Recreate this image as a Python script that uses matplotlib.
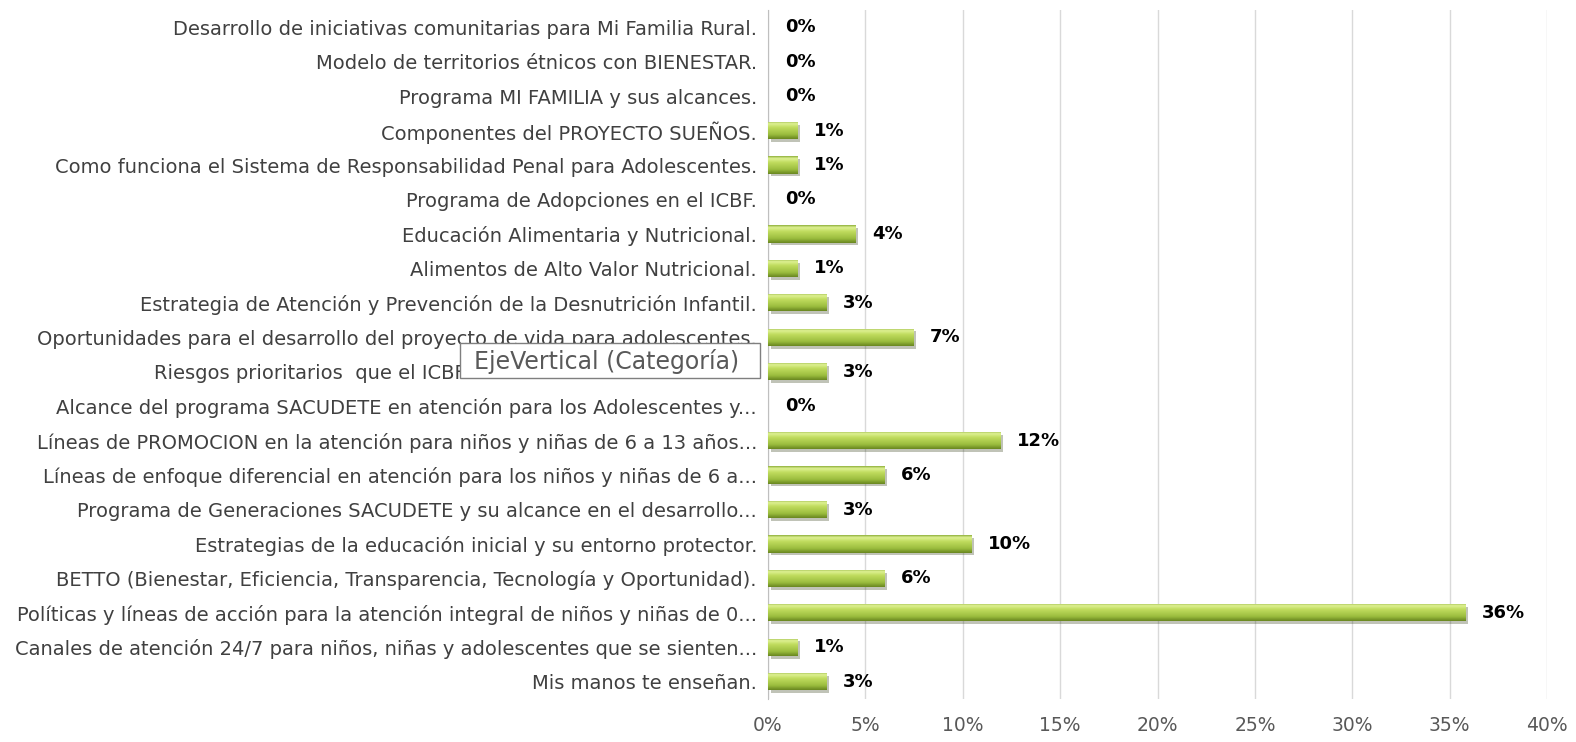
import numpy as np
import matplotlib
matplotlib.use("Agg")
import matplotlib.pyplot as plt
import matplotlib.patheffects as pe
from matplotlib.colors import LinearSegmentedColormap
from matplotlib.patches import Rectangle
from matplotlib.ticker import FuncFormatter

# categories listed top to bottom as in the chart
categorias = [
    "Desarrollo de iniciativas comunitarias para Mi Familia Rural.",
    "Modelo de territorios étnicos con BIENESTAR.",
    "Programa MI FAMILIA y sus alcances.",
    "Componentes del PROYECTO SUEÑOS.",
    "Como funciona el Sistema de Responsabilidad Penal para Adolescentes.",
    "Programa de Adopciones en el ICBF.",
    "Educación Alimentaria y Nutricional.",
    "Alimentos de Alto Valor Nutricional.",
    "Estrategia de Atención y Prevención de la Desnutrición Infantil.",
    "Oportunidades para el desarrollo del proyecto de vida para adolescentes.",
    "Riesgos prioritarios  que el ICBF aborda con los adolescentes.",
    "Alcance del programa SACUDETE en atención para los Adolescentes y...",
    "Líneas de PROMOCION en la atención para niños y niñas de 6 a 13 años...",
    "Líneas de enfoque diferencial en atención para los niños y niñas de 6 a...",
    "Programa de Generaciones SACUDETE y su alcance en el desarrollo...",
    "Estrategias de la educación inicial y su entorno protector.",
    "BETTO (Bienestar, Eficiencia, Transparencia, Tecnología y Oportunidad).",
    "Políticas y líneas de acción para la atención integral de niños y niñas de 0...",
    "Canales de atención 24/7 para niños, niñas y adolescentes que se sienten...",
    "Mis manos te enseñan.",
]
# percentages
valores = [0.0, 0.0, 0.0, 1.49, 1.49, 0.0, 4.48, 1.49, 2.99, 7.46,
           2.99, 0.0, 11.94, 5.97, 2.99, 10.45, 5.97, 35.82, 1.49, 2.99]
xticks = [0, 5, 10, 15, 20, 25, 30, 35, 40]

W, H = 1576, 742
fig = plt.figure(figsize=(W / 100, H / 100), dpi=100)
ax = fig.add_axes([768 / W, 1 - 699 / H, (1547 - 768) / W, 689 / H])

y = np.arange(len(categorias))
bars = ax.barh(y, valores, height=0.5, color="#9dc040", edgecolor="none", zorder=3)

# green gradient like the excel bevel
cmap = LinearSegmentedColormap.from_list(
    "verde", [(0, "#8aac35"), (0.12, "#e0f296"), (0.35, "#c0dc5e"),
              (0.75, "#9bbd3e"), (1, "#68861f")])
grad = np.linspace(0, 1, 64).reshape(-1, 1)
for b in bars:
    if b.get_width() <= 0:
        continue
    b.set_path_effects([pe.SimplePatchShadow(offset=(2, -2), alpha=0.3), pe.Normal()])
    x0, y0 = b.get_x(), b.get_y()
    im = ax.imshow(grad, cmap=cmap, aspect="auto", zorder=4,
                   extent=(x0, x0 + b.get_width(), y0 + b.get_height(), y0),
                   interpolation="bicubic")
    im.set_clip_path(b)

for i, v in enumerate(valores):
    ax.annotate(f"{v:.0f}%", (v, i), xytext=(12, 0), textcoords="offset points",
                va="center", ha="left", fontsize=13, fontweight="bold", color="black")

ax.set_xlim(0, 40)
ax.set_ylim(len(categorias) - 0.5, -0.5)
ax.set_xticks(xticks)
ax.xaxis.set_major_formatter(FuncFormatter(lambda v, p: f"{v:.0f}%"))
ax.set_yticks(y)
ax.set_yticklabels(categorias, fontsize=14, color="#404040")
ax.tick_params(axis="x", length=0, labelsize=13.5, labelcolor="#595959", pad=12)
ax.tick_params(axis="y", length=0, pad=8)
ax.grid(axis="x", color="#d9d9d9", linewidth=1, zorder=0)
ax.set_axisbelow(True)
for s in ["top", "right", "bottom"]:
    ax.spines[s].set_visible(False)
ax.spines["left"].set_color("#bfbfbf")

# the hover tooltip seen in the screenshot
fig.patches.append(Rectangle((460 / W, 1 - 378 / H), 300 / W, 35 / H,
                             transform=fig.transFigure, facecolor="white",
                             edgecolor="#7f7f7f", linewidth=1, zorder=10))
fig.text(607 / W, 1 - 361 / H, "EjeVertical (Categoría)", ha="center", va="center",
         fontsize=17, color="#595959", zorder=11)

fig.savefig("out.png", dpi=100)
